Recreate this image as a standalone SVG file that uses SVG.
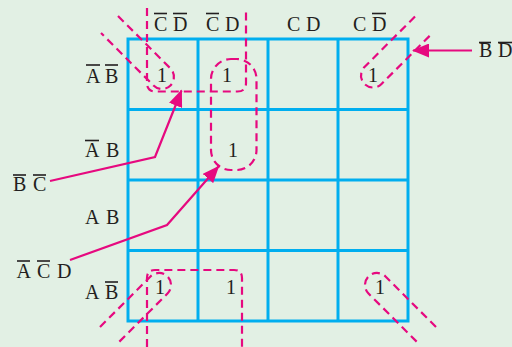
<svg xmlns="http://www.w3.org/2000/svg" width="512" height="347" viewBox="0 0 512 347">
<style>
.t{font-family:"Liberation Serif","Times New Roman",serif;font-size:20px;fill:#231f20}
.one{font-family:"Liberation Serif","Times New Roman",serif;font-size:20px;fill:#231f20;text-anchor:middle}
.bar{stroke:#231f20;stroke-width:1.6;fill:none}
.grid{stroke:#00aeef;stroke-width:3;fill:none}
.loop{stroke:#e6097f;stroke-width:2.2;fill:none;stroke-dasharray:8 5}
.arr{stroke:#e6097f;stroke-width:2.2;fill:none}
</style>
<defs>
<marker id="ah" markerUnits="userSpaceOnUse" markerWidth="17" markerHeight="14" viewBox="0 0 17 14" refX="16" refY="7" orient="auto">
<path d="M0,0 L17,7 L0,14 Z" fill="#e6097f"/>
</marker>
</defs>
<rect width="512" height="347" fill="#e2f0e4"/>
<g id="grid">
<rect class="grid" x="128" y="39" width="280" height="282"/>
<line class="grid" x1="198" y1="39" x2="198" y2="321"/>
<line class="grid" x1="268" y1="39" x2="268" y2="321"/>
<line class="grid" x1="338" y1="39" x2="338" y2="321"/>
<line class="grid" x1="128" y1="109.5" x2="408" y2="109.5"/>
<line class="grid" x1="128" y1="180" x2="408" y2="180"/>
<line class="grid" x1="128" y1="250.5" x2="408" y2="250.5"/>
</g>
<g id="col-headers">
<g id="h1"><text class="t" x="154" y="31">C</text><text class="t" x="173" y="31">D</text><line class="bar" x1="154" y1="13.5" x2="167" y2="13.5"/><line class="bar" x1="173" y1="13.5" x2="187" y2="13.5"/></g>
<g id="h2"><text class="t" x="206" y="31">C</text><text class="t" x="225" y="31">D</text><line class="bar" x1="206" y1="13.5" x2="219" y2="13.5"/></g>
<g id="h3"><text class="t" x="287" y="31">C</text><text class="t" x="306" y="31">D</text></g>
<g id="h4"><text class="t" x="353" y="31">C</text><text class="t" x="372" y="31">D</text><line class="bar" x1="372" y1="13.5" x2="386" y2="13.5"/></g>
</g>
<g id="row-headers">
<g id="r1"><text class="t" x="86" y="83">A</text><text class="t" x="105" y="83">B</text><line class="bar" x1="86" y1="65" x2="100" y2="65"/><line class="bar" x1="105" y1="65" x2="118" y2="65"/></g>
<g id="r2"><text class="t" x="85" y="157">A</text><text class="t" x="106" y="157">B</text><line class="bar" x1="85" y1="140.5" x2="99" y2="140.5"/></g>
<g id="r3"><text class="t" x="85" y="224">A</text><text class="t" x="106" y="224">B</text></g>
<g id="r4"><text class="t" x="85" y="299">A</text><text class="t" x="105" y="299">B</text><line class="bar" x1="105" y1="282" x2="118" y2="282"/></g>
</g>
<g id="cells">
<text class="one" x="162" y="82">1</text>
<text class="one" x="227" y="82">1</text>
<text class="one" x="373" y="82">1</text>
<text class="one" x="233" y="157">1</text>
<text class="one" x="160" y="294">1</text>
<text class="one" x="231" y="294">1</text>
<text class="one" x="380" y="294">1</text>
</g>
<g id="loops">
<path id="loop-bc-top" class="loop" d="M147,8 V83 Q147,91.5 155.5,91.5 H237.5 Q246,91.5 246,83 V8"/>
<path id="loop-bc-bottom" class="loop" d="M147,347 V278 Q147,270 155,270 H234 Q242,270 242,278 V347"/>
<rect id="loop-acd" class="loop" x="211" y="59" width="45.5" height="111" rx="20"/>
<path id="loop-bd-tl" class="loop" d="M118,16 L170.5,68.5 A12,12 0 0 1 153.5,85.5 L101,33"/>
<path id="loop-bd-tr" class="loop" d="M415,16.5 L364.5,67 A12,12 0 0 0 381.5,84 L432.5,33"/>
<path id="loop-bd-bl" class="loop" d="M100,327 L150.5,276.5 A12,12 0 0 1 167.5,293.5 L116,345"/>
<path id="loop-bd-br" class="loop" d="M436,327 L385.5,276.5 A12,12 0 0 0 368.5,293.5 L418,343"/>
</g>
<g id="labels">
<g id="lbl-bc"><text class="t" x="13" y="190.5">B</text><text class="t" x="33" y="190.5">C</text><line class="bar" x1="13" y1="175" x2="26" y2="175"/><line class="bar" x1="33" y1="175" x2="46" y2="175"/></g>
<g id="lbl-acd"><text class="t" x="16.5" y="278">A</text><text class="t" x="37" y="278">C</text><text class="t" x="57" y="278">D</text><line class="bar" x1="17" y1="261" x2="30" y2="261"/><line class="bar" x1="37" y1="261" x2="50" y2="261"/></g>
<g id="lbl-bd"><text class="t" x="479" y="57">B</text><text class="t" x="498" y="57">D</text><line class="bar" x1="479" y1="42.5" x2="491" y2="42.5"/><line class="bar" x1="498" y1="42.5" x2="512" y2="42.5"/></g>
</g>
<g id="connectors">
<polyline class="arr" points="50,181 155,157 181.5,90.5" marker-end="url(#ah)"/>
<polyline class="arr" points="70,260 167,225 218.5,166.5" marker-end="url(#ah)"/>
<line class="arr" x1="472" y1="50.5" x2="413" y2="50.5" marker-end="url(#ah)"/>
</g>
</svg>
